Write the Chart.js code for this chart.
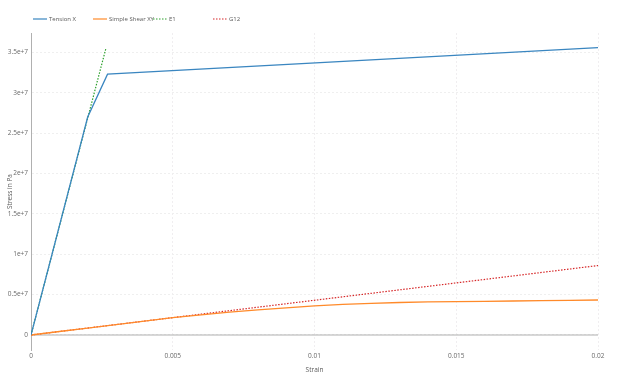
<!DOCTYPE html>
<html>
<head>
<meta charset="utf-8">
<script src="https://cdn.jsdelivr.net/npm/chart.js@4.4.1/dist/chart.umd.min.js"></script>
<style>
    body { margin: 0; background: white; }
    canvas { display: block; }
</style>
</head>
<body>
<canvas id="stressChart" width="624" height="379"></canvas>
<script>

// DATA

var tensionStrain = [0, 0.002, 0.0027, 0.02];
var tensionStress = [0, 2.70e7, 3.23e7, 3.56e7];

var shearStrain = [0, 0.001, 0.002, 0.003, 0.004, 0.005, 0.006, 0.007, 0.008, 0.009, 0.010,
                   0.011, 0.012, 0.013, 0.014, 0.015, 0.016, 0.017, 0.018, 0.019, 0.020];
var shearStress = [0, 0.43e6, 0.86e6, 1.29e6, 1.72e6, 2.14e6, 2.50e6, 2.82e6, 3.10e6, 3.36e6, 3.60e6,
                   3.78e6, 3.92e6, 4.02e6, 4.09e6, 4.13e6, 4.17e6, 4.21e6, 4.25e6, 4.29e6, 4.33e6];

var e1Strain = [0, 0.00265];
var e1Stress = [0, 3.56e7];

var g12Strain = [0, 0.02];
var g12Stress = [0, 8.6e6];

var xTicks = [0, 0.005, 0.01, 0.015, 0.02];
var xTickLabels = ['0', '0.005', '0.01', '0.015', '0.02'];
var yTicks = [0, 0.5e7, 1e7, 1.5e7, 2e7, 2.5e7, 3e7, 3.5e7];
var yTickLabels = ['0', '0.5e+7', '1e+7', '1.5e+7', '2e+7', '2.5e+7', '3e+7', '3.5e+7'];


function toPoints(xs, ys) {
    return xs.map(function(x, i) { return {x: x, y: ys[i]}; });
}


Chart.defaults.font.size = 6.5;
Chart.defaults.font.family = "'Open Sans', sans-serif";
Chart.defaults.color = '#6a6a6a';


// zero line + fixed-width legend, plotly style
var extras = {
    id: 'extras',
    beforeDatasetsDraw: function(chart) {
        var c = chart.ctx, a = chart.chartArea;
        var y0 = chart.scales.y.getPixelForValue(0);
        c.save();
        c.strokeStyle = '#b0b0b0';
        c.lineWidth = 1.2;
        c.beginPath();
        c.moveTo(a.left, y0);
        c.lineTo(a.right, y0);
        c.stroke();
        c.restore();
    },
    afterDraw: function(chart) {
        var c = chart.ctx;
        c.save();
        c.font = "6px 'Open Sans', sans-serif";
        c.textBaseline = 'middle';
        chart.data.datasets.forEach(function(ds, i) {
            var x = 33 + i * 60, y = 19;
            c.strokeStyle = ds.borderColor;
            c.lineWidth = 1.2;
            c.setLineDash(ds.borderDash || []);
            c.beginPath();
            c.moveTo(x, y);
            c.lineTo(x + 14, y);
            c.stroke();
            c.setLineDash([]);
            c.fillStyle = '#5a5a5a';
            c.fillText(ds.label, x + 16, y);
        });
        c.restore();
    }
};


var ctx = document.getElementById('stressChart').getContext('2d');

var chart = new Chart(ctx, {
    type: 'scatter',
    data: {
        datasets: [
            {label: 'Tension X', data: toPoints(tensionStrain, tensionStress),
             borderColor: '#3a86c0', borderWidth: 1.3},
            {label: 'Simple Shear XY', data: toPoints(shearStrain, shearStress),
             borderColor: '#ff8a2a', borderWidth: 1.3},
            {label: 'E1', data: toPoints(e1Strain, e1Stress),
             borderColor: '#2ca02c', borderWidth: 1.2, borderDash: [1.5, 1.5]},
            {label: 'G12', data: toPoints(g12Strain, g12Stress),
             borderColor: '#d62728', borderWidth: 1.2, borderDash: [1.5, 1.5]},
        ],
    },
    options: {
        responsive: false,
        animation: false,
        showLine: true,
        elements: {point: {radius: 0}, line: {tension: 0}},
        layout: {padding: {top: 33, right: 26, left: 0, bottom: 0}},
        scales: {
            x: {
                type: 'linear',
                min: 0,
                max: 0.02,
                afterBuildTicks: function(s) { s.ticks = xTicks.map(function(v) { return {value: v}; }); },
                afterFit: function(s) { s.height = 29; },
                ticks: {
                    padding: 2,
                    maxRotation: 0,
                    callback: function(v) { return xTickLabels[xTicks.indexOf(v)]; }},
                grid: {color: '#f0eef0', drawTicks: false},
                border: {display: false, dash: [2, 2]},
                title: {display: true, text: 'Strain', color: '#5a5a5a', padding: {top: 0, bottom: 5}},
            },
            y: {
                type: 'linear',
                min: -1.86e6,
                max: 3.74e7,
                afterBuildTicks: function(s) { s.ticks = yTicks.map(function(v) { return {value: v}; }); },
                afterFit: function(s) { s.width = 31; },
                ticks: {
                    padding: 3,
                    callback: function(v) { return yTickLabels[yTicks.indexOf(v)]; }},
                grid: {color: '#efefef', drawTicks: false},
                border: {display: true, color: '#b0b0b0', width: 1, dash: [2, 2]},
                title: {display: true, text: 'Stress in Pa', color: '#5a5a5a', padding: {top: 6, bottom: 0}},
            },
        },
        plugins: {
            legend: {display: false},
            tooltip: {enabled: false},
        },
    },
    plugins: [extras],
});

</script>
</body>
</html>
